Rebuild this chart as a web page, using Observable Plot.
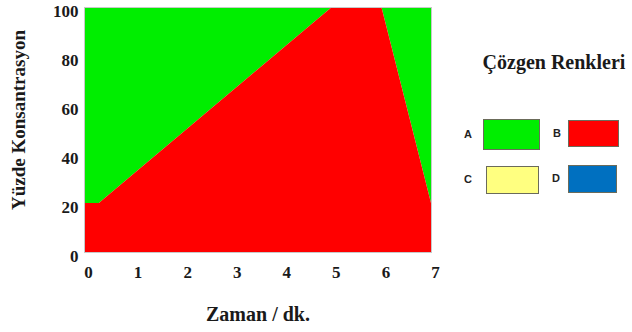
<!DOCTYPE html>
<html>
<head>
<meta charset="utf-8">
<script src="https://cdn.jsdelivr.net/npm/d3@7"></script>
<script src="https://cdn.jsdelivr.net/npm/@observablehq/plot@0.6"></script>
<style>
  html, body { margin: 0; padding: 0; background: #fff; }
  #wrap { position: relative; width: 632px; height: 332px; overflow: hidden; }
  #legend { position: absolute; left: 0; top: 0; width: 632px; height: 332px; pointer-events: none; }
  .ttl { position: absolute; left: 476px; top: 51px; width: 156px; text-align: center;
         font: bold 20px "Liberation Serif", serif; color: #1a1a1a; white-space: nowrap; }
  .lab { position: absolute; font: bold 11px "Liberation Sans", sans-serif; color: #222; }
  .sw { position: absolute; box-sizing: border-box; border: 1.5px solid #6b6b5a; }
</style>
</head>
<body>
<div id="wrap"><div id="chart"></div><div id="legend"></div></div>
<script>
// Gradient profile: time (min) vs % of solvent B
const times = [0, 0.3, 5, 6, 7];
const solventB = [20, 20, 100, 100, 20];
const xTicks = [0, 1, 2, 3, 4, 5, 6, 7];
const yTicks = [0, 20, 40, 60, 80, 100];
const solventNames = ["A", "B", "C", "D"];
const solventColors = ["#00ee00", "#ff0000", "#ffff80", "#0070c0"];

const data = times.map((t, i) => ({t, b: solventB[i]}));

const chart = Plot.plot({
  width: 632,
  height: 332,
  marginLeft: 84,
  marginRight: 201,
  marginTop: 7,
  marginBottom: 80,
  style: {fontFamily: "'Liberation Serif', serif", fontWeight: "bold", fontSize: "17px", color: "#1a1a1a"},
  x: {domain: [0, 7], ticks: xTicks, tickSize: 0, label: null},
  y: {domain: [0, 100], ticks: yTicks, tickSize: 0, label: null},
  marks: [
    Plot.areaY(data, {x: "t", y1: "b", y2: 100, fill: solventColors[0]}),
    Plot.areaY(data, {x: "t", y1: 0, y2: "b", fill: solventColors[1]}),
    Plot.frame({stroke: "#c8c8c8", strokeWidth: 1}),
    Plot.axisX({ticks: xTicks, tickFormat: d => String(d), tickSize: 0, tickPadding: 13, dx: 4, fontSize: 17, fontWeight: "bold", label: null}),
    Plot.axisY({ticks: yTicks, tickFormat: d => String(d), tickSize: 0, tickPadding: 6, dy: 4, fontSize: 17, fontWeight: "bold", label: null}),
    Plot.text(["Zaman / dk."], {frameAnchor: "bottom", dy: 68, fontSize: 20, fontWeight: "bold"}),
    Plot.text(["Yüzde Konsantrasyon"], {frameAnchor: "left", textAnchor: "middle", dx: -66, dy: -10, rotate: -90, fontSize: 19, fontWeight: "bold"})
  ]
});
document.getElementById("chart").append(chart);

// Legend
const leg = document.getElementById("legend");
const t = document.createElement("div");
t.className = "ttl"; t.textContent = "Çözgen Renkleri";
leg.append(t);
const pos = [
  {lx: 464, sx: 483, y: 119, w: 57, h: 31},
  {lx: 553, sx: 568, y: 120, w: 51, h: 27},
  {lx: 464, sx: 486, y: 166, w: 53, h: 28},
  {lx: 552, sx: 568, y: 165, w: 49, h: 28}
];
solventNames.forEach((n, i) => {
  const p = pos[i];
  const l = document.createElement("div");
  l.className = "lab"; l.textContent = n;
  l.style.left = p.lx + "px"; l.style.top = (p.y + p.h / 2 - 7) + "px";
  leg.append(l);
  const s = document.createElement("div");
  s.className = "sw";
  s.style.left = p.sx + "px"; s.style.top = p.y + "px";
  s.style.width = p.w + "px"; s.style.height = p.h + "px";
  s.style.background = solventColors[i];
  leg.append(s);
});
</script>
</body>
</html>
